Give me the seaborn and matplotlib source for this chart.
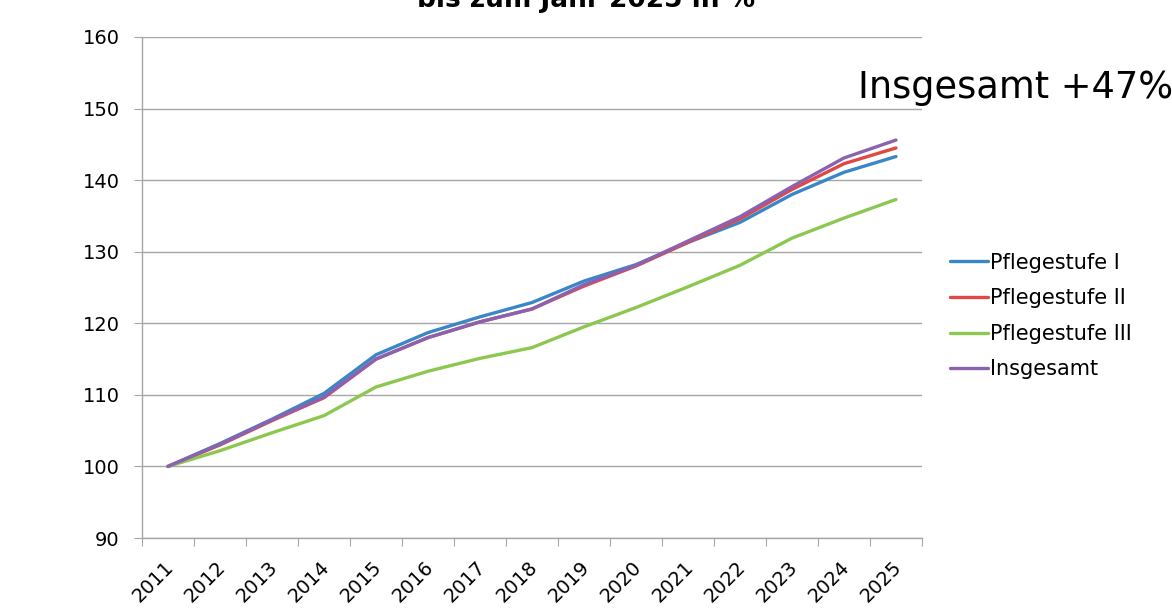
import numpy as np
import pandas as pd
import matplotlib
matplotlib.use("Agg")
import matplotlib.pyplot as plt
import matplotlib.transforms as mtransforms
import seaborn as sns

# Data (index, 2011 = 100)
years = [str(y) for y in range(2011, 2026)]
stufe_1 = [100, 103.2, 106.6, 110.2, 115.6, 118.7, 120.9, 122.9, 125.9, 128.2, 131.3, 134.1, 138.0, 141.1, 143.3]
stufe_2 = [100, 103.0, 106.4, 109.6, 115.0, 118.0, 120.2, 122.0, 125.2, 128.0, 131.3, 134.6, 138.7, 142.3, 144.5]
stufe_3 = [100, 102.2, 104.7, 107.1, 111.1, 113.3, 115.1, 116.6, 119.5, 122.2, 125.1, 128.1, 131.9, 134.7, 137.3]
insgesamt = [100, 103.1, 106.5, 109.7, 115.0, 118.0, 120.2, 122.0, 125.4, 128.1, 131.5, 134.9, 139.1, 143.1, 145.6]

series_names = ["Pflegestufe I", "Pflegestufe II", "Pflegestufe III", "Insgesamt"]
colors = ["#3a87c8", "#e04848", "#8cc850", "#8a62b0"]

# long-form table for seaborn
rows = []
for name, vals in zip(series_names, [stufe_1, stufe_2, stufe_3, insgesamt]):
    for i, v in enumerate(vals):
        rows.append({"pos": i, "Jahr": years[i], "Wert": v, "Reihe": name})
df = pd.DataFrame(rows)

sns.set_style("white")
plt.rcParams["font.family"] = ["DejaVu Sans"]
plt.rcParams["text.color"] = "black"
plt.rcParams["xtick.color"] = "black"
plt.rcParams["ytick.color"] = "black"

fig = plt.figure(figsize=(11.72, 6.11), dpi=100)
ax = fig.add_axes([142 / 1172, 1 - 538 / 611, 780 / 1172, 501 / 611])

sns.lineplot(data=df, x="pos", y="Wert", hue="Reihe", hue_order=series_names,
             palette=colors, linewidth=2.4, ax=ax)

# axes styling like the office chart
ax.set_xlim(-0.5, len(years) - 0.5)
ax.set_ylim(90, 160)
ax.set_yticks(np.arange(90, 161, 10))
ax.yaxis.grid(True, color="#a6a6a6", linewidth=1)
ax.set_axisbelow(True)
for side in ["top", "right"]:
    ax.spines[side].set_visible(False)
for side in ["left", "bottom"]:
    ax.spines[side].set_color("#a6a6a6")
    ax.spines[side].set_linewidth(1)

ax.set_xticks(np.arange(-0.5, len(years), 1))
ax.set_xticklabels([])
ax.set_xticks(np.arange(len(years)), minor=True)
ax.set_xticklabels(years, minor=True, rotation=45, ha="right", rotation_mode="anchor", fontsize=14)
ax.tick_params(axis="x", which="major", length=6, color="#a6a6a6", direction="out", bottom=True)
ax.tick_params(axis="x", which="minor", length=0, pad=8, bottom=True, colors="black")
ax.tick_params(axis="y", length=6, color="#a6a6a6", labelcolor="black", direction="out", left=True,
               labelsize=14, pad=10)
ax.set_xlabel("")
ax.set_ylabel("")

# nudge year labels to sit like the reference
shift = mtransforms.ScaledTranslation(-0.04, -0.08, fig.dpi_scale_trans)
for lbl in ax.get_xticklabels(minor=True):
    lbl.set_transform(lbl.get_transform() + shift)

ax.legend(loc="center left", bbox_to_anchor=(1.012, 0.443), frameon=False, fontsize=15,
          handlelength=1.8, handletextpad=0.1, labelspacing=0.75)

fig.text(0.5, 1.024, "Entwicklung der Zahl der Pflegebedürftigen\nbis zum Jahr 2025 in %", ha="center", va="center",
         fontsize=19, fontweight="bold")
fig.text(858 / 1172, 1 - 87 / 611, "Insgesamt +47%", ha="left", va="center", fontsize=26.5)

fig.savefig("out.png", dpi=100)
